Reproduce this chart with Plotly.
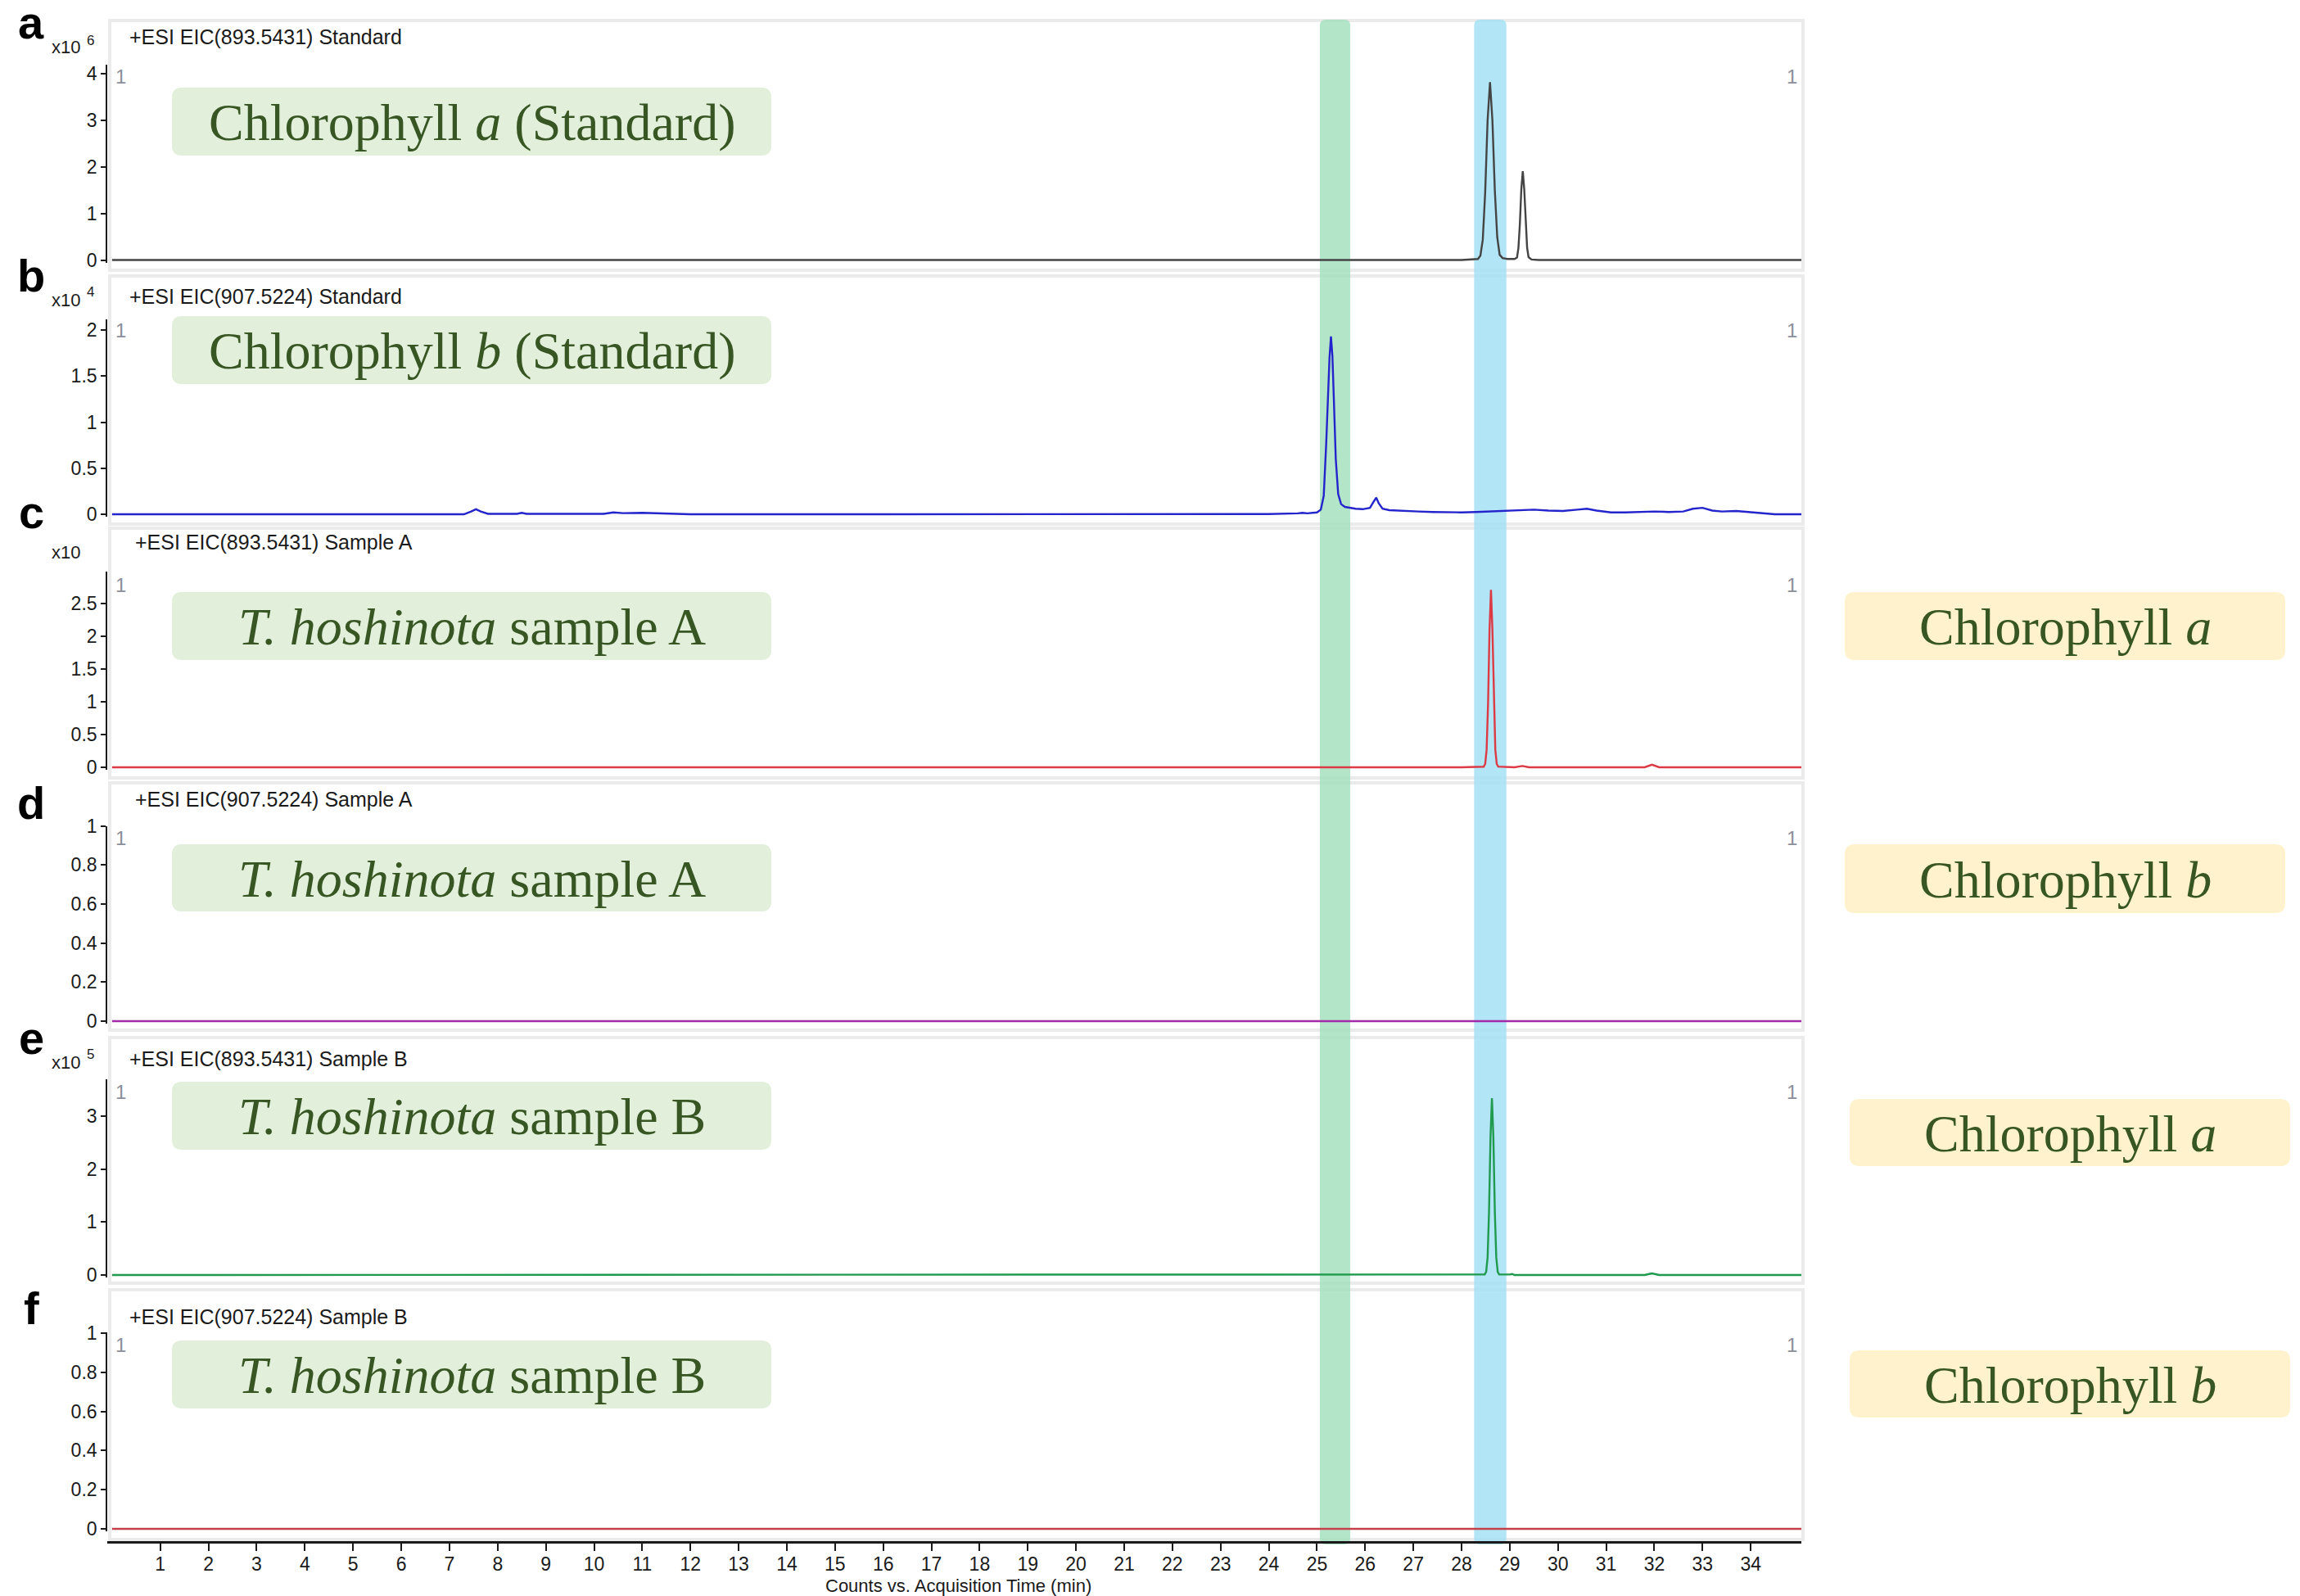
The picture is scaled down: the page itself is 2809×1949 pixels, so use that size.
import plotly.graph_objects as go

W, H = 2809, 1949          # browser window
OFF = 8                     # default body margin of the html page
FW, FH = W - OFF, H - OFF   # figure size: figure fills the window from the body margin on

# ---------------- data ----------------
# a: EIC 893.5431 Standard (x10^6)
time_a = [0.0, 5.0, 10.0, 15.0, 20.0, 25.0, 28.00, 28.34, 28.39, 28.44, 28.49, 28.54, 28.59, 28.64,
          28.69, 28.74, 28.79, 28.85, 28.95, 29.10, 29.15, 29.18, 29.21, 29.24, 29.27, 29.30, 29.33,
          29.36, 29.39, 29.45, 29.60, 30.0, 35.05]
int_a = [0.01, 0.01, 0.01, 0.01, 0.01, 0.01, 0.01, 0.03, 0.10, 0.44, 1.46, 3.00, 3.82, 3.00,
         1.50, 0.50, 0.12, 0.05, 0.03, 0.03, 0.06, 0.27, 0.79, 1.53, 1.91, 1.53, 0.79,
         0.27, 0.07, 0.02, 0.01, 0.01, 0.01]

# b: EIC 907.5224 Standard (x10^4)
time_b = [0.0, 7.30, 7.45, 7.55, 7.65, 7.80, 8.40, 8.50, 8.60, 10.2, 10.4, 10.6, 11.0, 11.4, 11.6,
          12.0, 16.0, 20.0, 24.0, 24.6, 24.7, 24.8, 25.00, 25.08, 25.14, 25.19, 25.23, 25.26, 25.29,
          25.32, 25.35, 25.39, 25.44, 25.50, 25.58, 25.68, 25.80, 25.95, 26.10, 26.18, 26.23, 26.28,
          26.36, 26.50, 26.80, 27.1, 27.4, 27.7, 28.0, 28.3, 28.6, 28.9, 29.2, 29.5, 29.8, 30.1,
          30.4, 30.6, 30.8, 31.1, 31.4, 31.7, 32.0, 32.3, 32.6, 32.8, 33.0, 33.2, 33.4, 33.7, 34.0,
          34.5, 35.05]
int_b = [0.0, 0.0, 0.03, 0.055, 0.03, 0.005, 0.005, 0.015, 0.005, 0.005, 0.02, 0.012, 0.015, 0.01,
         0.003, 0.0, 0.0, 0.0, 0.002, 0.01, 0.015, 0.01, 0.02, 0.05, 0.20, 0.75, 1.30, 1.70, 1.93,
         1.72, 1.25, 0.60, 0.22, 0.11, 0.08, 0.07, 0.06, 0.055, 0.07, 0.14, 0.18, 0.12,
         0.06, 0.045, 0.035, 0.03, 0.025, 0.022, 0.02, 0.025, 0.03, 0.035, 0.045, 0.05, 0.04, 0.035,
         0.05, 0.06, 0.04, 0.02, 0.02, 0.025, 0.03, 0.025, 0.03, 0.06, 0.07, 0.04, 0.03, 0.035, 0.02,
         0.0, 0.0]

# c: EIC 893.5431 Sample A (x10)
time_c = [0.0, 10.0, 20.0, 28.0, 28.46, 28.49, 28.52, 28.55, 28.58, 28.61, 28.64, 28.67, 28.70,
          28.73, 28.76, 29.10, 29.26, 29.40, 31.80, 31.95, 32.10, 35.05]
int_c = [0.0, 0.0, 0.0, 0.0, 0.01, 0.05, 0.27, 0.98, 2.10, 2.71, 2.10, 0.98, 0.27,
         0.05, 0.01, 0.0, 0.02, 0.0, 0.0, 0.04, 0.0, 0.0]

# d: EIC 907.5224 Sample A
time_d = [0.0, 10.0, 20.0, 30.0, 35.05]
int_d = [0.0, 0.0, 0.0, 0.0, 0.0]

# e: EIC 893.5431 Sample B (x10^5)
time_e = [0.0, 10.0, 20.0, 28.0, 28.48, 28.51, 28.54, 28.57, 28.60, 28.63, 28.66, 28.69, 28.72,
          28.75, 28.78, 29.00, 29.05, 29.10, 31.80, 31.95, 32.10, 35.05]
int_e = [0.0, 0.0, 0.0, 0.0, 0.01, 0.06, 0.33, 1.20, 2.60, 3.34, 2.60, 1.20, 0.33,
         0.06, 0.01, 0.01, 0.02, 0.0, 0.0, 0.03, 0.0, 0.0]

# f: EIC 907.5224 Sample B
time_f = [0.0, 10.0, 20.0, 30.0, 35.05]
int_f = [0.0, 0.0, 0.0, 0.0, 0.0]

# highlighted retention-time windows (min): chlorophyll b, chlorophyll a
band_b = [25.06, 25.69]
band_a = [28.26, 28.93]

# tick labels
yticks_a = [0, 1, 2, 3, 4]
yticks_b = [0, 0.5, 1, 1.5, 2]
yticks_c = [0, 0.5, 1, 1.5, 2, 2.5]
yticks_d = [0, 0.2, 0.4, 0.6, 0.8, 1]
yticks_e = [0, 1, 2, 3]
yticks_f = [0, 0.2, 0.4, 0.6, 0.8, 1]
xticks = [1, 2, 3, 4, 5, 6, 7, 8, 9, 10, 11, 12, 13, 14, 15, 16, 17, 18, 19, 20, 21, 22, 23,
          24, 25, 26, 27, 28, 29, 30, 31, 32, 33, 34]

headers = ["+ESI EIC(893.5431) Standard", "+ESI EIC(907.5224) Standard",
           "+ESI EIC(893.5431) Sample A", "+ESI EIC(907.5224) Sample A",
           "+ESI EIC(893.5431) Sample B", "+ESI EIC(907.5224) Sample B"]
letters = ["a", "b", "c", "d", "e", "f"]
exponents = ["6", "4", "", None, "5", None]
left_labels = ["Chlorophyll <i>a</i> (Standard)", "Chlorophyll <i>b</i> (Standard)",
               "<i>T. hoshinota</i> sample A", "<i>T. hoshinota</i> sample A",
               "<i>T. hoshinota</i> sample B", "<i>T. hoshinota</i> sample B"]
right_labels = [None, None, "Chlorophyll <i>a</i>", "Chlorophyll <i>b</i>",
                "Chlorophyll <i>a</i>", "Chlorophyll <i>b</i>"]

# ---------------- layout geometry (window pixels) ----------------
def px(x):
    return (x - OFF) / FW

def py(y):
    return 1 - (y - OFF) / FH

X_LEFT, X_RIGHT = 131, 2200
X_RANGE = [-0.10, 35.05]

panels = [
    dict(t=time_a, v=int_a, color="#444444", ticks=yticks_a, y0=318, rv=4, rpx=90, top=79,
         frame=(25, 330), hdr=(156, 45), letter_y=27, x10_y=57, exp_y=50,
         lbox=(107, 190), rbox=None, one_y=94),
    dict(t=time_b, v=int_b, color="#2424cc", ticks=yticks_b, y0=628, rv=2, rpx=403, top=390,
         frame=(337, 640), hdr=(156, 362), letter_y=337, x10_y=367, exp_y=357,
         lbox=(386, 469), rbox=None, one_y=403),
    dict(t=time_c, v=int_c, color="#dc3a44", ticks=yticks_c, y0=937, rv=2.5, rpx=737, top=698,
         frame=(645, 950), hdr=(163, 662), letter_y=625, x10_y=675, exp_y=None,
         lbox=(723, 806), rbox=(2253, 2791, 723, 806), one_y=714),
    dict(t=time_d, v=int_d, color="#a22aa8", ticks=yticks_d, y0=1247, rv=1, rpx=1008.5, top=1008.5,
         frame=(956, 1258), hdr=(163, 976), letter_y=980, x10_y=None, exp_y=None,
         lbox=(1031, 1113), rbox=(2253, 2791, 1031, 1115), one_y=1023),
    dict(t=time_e, v=int_e, color="#1f9a4e", ticks=yticks_e, y0=1557, rv=3, rpx=1363, top=1318,
         frame=(1267, 1567), hdr=(156, 1293), letter_y=1267, x10_y=1297, exp_y=1287,
         lbox=(1321, 1404), rbox=(2259, 2797, 1342, 1424), one_y=1333),
    dict(t=time_f, v=int_f, color="#c4404a", ticks=yticks_f, y0=1867, rv=1, rpx=1628, top=1627,
         frame=(1575, 1880), hdr=(156, 1608), letter_y=1597, x10_y=None, exp_y=None,
         lbox=(1637, 1720), rbox=(2259, 2797, 1649, 1731), one_y=1642),
]

SANS = "Liberation Sans, Arial, sans-serif"
SERIF = "Liberation Serif, Times New Roman, serif"
LABEL_GREEN = "#375623"


def rrect_path(x0, y0, x1, y1, r):
    rx, ry = r / FW, r / FH
    X0, X1 = px(x0), px(x1)
    Y0, Y1 = py(y0), py(y1)  # Y0 top (larger), Y1 bottom
    return (f"M {X0+rx},{Y0} L {X1-rx},{Y0} Q {X1},{Y0} {X1},{Y0-ry} "
            f"L {X1},{Y1+ry} Q {X1},{Y1} {X1-rx},{Y1} L {X0+rx},{Y1} "
            f"Q {X0},{Y1} {X0},{Y1+ry} L {X0},{Y0-ry} Q {X0},{Y0} {X0+rx},{Y0} Z")


def band_path(t0, t1, ytop, ybot, r_px):
    rt = r_px / ((X_RIGHT - X_LEFT) / (X_RANGE[1] - X_RANGE[0]))
    ry = r_px / FH
    Y0, Y1 = py(ytop), py(ybot)
    return (f"M {t0+rt},{Y0} L {t1-rt},{Y0} Q {t1},{Y0} {t1},{Y0-ry} "
            f"L {t1},{Y1+ry} Q {t1},{Y1} {t1-rt},{Y1} L {t0+rt},{Y1} "
            f"Q {t0},{Y1} {t0},{Y1+ry} L {t0},{Y0-ry} Q {t0},{Y0} {t0+rt},{Y0} Z")


fig = go.Figure()
shapes = []
annotations = []
layout_axes = {}

for i, p in enumerate(panels, start=1):
    ppu = (p["y0"] - p["rpx"]) / p["rv"]
    ymax = (p["y0"] - p["top"]) / ppu
    ymin = -3 / ppu
    xa = "x" if i == 1 else f"x{i}"
    ya = "y" if i == 1 else f"y{i}"
    fig.add_trace(go.Scatter(x=p["t"], y=p["v"], mode="lines", xaxis=xa, yaxis=ya,
                             line=dict(color=p["color"], width=2.4), showlegend=False,
                             hoverinfo="skip"))
    xkey = "xaxis" if i == 1 else f"xaxis{i}"
    ykey = "yaxis" if i == 1 else f"yaxis{i}"
    xdict = dict(domain=[px(X_LEFT), px(X_RIGHT)], range=X_RANGE, showgrid=False,
                 zeroline=False, fixedrange=True, automargin=False)
    if i < 6:
        xdict.update(anchor=ya, visible=False)
    else:
        xdict.update(anchor="free", position=py(1883), showline=True, linecolor="#1a1a1a",
                     linewidth=2.5, ticks="outside", ticklen=9, tickwidth=2,
                     tickcolor="#1a1a1a", tickvals=xticks, ticktext=[str(v) for v in xticks],
                     ticklabelstandoff=-3,
                     tickfont=dict(family=SANS, size=23, color="#1a1a1a"))
    layout_axes[xkey] = xdict
    layout_axes[ykey] = dict(domain=[py(p["y0"] + 3), py(p["top"])], range=[ymin, ymax],
                             anchor=xa, showline=True, linecolor="#1a1a1a", linewidth=1.6,
                             ticks="outside", ticklen=6, tickwidth=1.6, tickcolor="#1a1a1a",
                             tickvals=p["ticks"], ticktext=[f"{v:g}" for v in p["ticks"]],
                             tickfont=dict(family=SANS, size=23, color="#1a1a1a"),
                             showgrid=False, zeroline=False, fixedrange=True, automargin=False)

    # panel frame
    ft, fb = p["frame"]
    shapes.append(dict(type="rect", xref="paper", yref="paper", x0=px(134), x1=px(2202),
                       y0=py(fb), y1=py(ft), line=dict(color="#ebebeb", width=4),
                       fillcolor="rgba(0,0,0,0)", layer="below"))
    # green sample label box
    lt, lb = p["lbox"]
    shapes.append(dict(type="path", xref="paper", yref="paper",
                       path=rrect_path(210, lt, 942, lb, 12),
                       fillcolor="#e2efda", line=dict(width=0), layer="above"))
    annotations.append(dict(text=left_labels[i - 1], xref="paper", yref="paper",
                            x=px(576), y=py((lt + lb) / 2 + 1), xanchor="center",
                            yanchor="middle", showarrow=False,
                            font=dict(family=SERIF, size=64, color=LABEL_GREEN)))
    if p["rbox"] is not None:
        rx0, rx1, rt_, rb_ = p["rbox"]
        shapes.append(dict(type="path", xref="paper", yref="paper",
                           path=rrect_path(rx0, rt_, rx1, rb_, 12),
                           fillcolor="#fff2cc", line=dict(width=0), layer="above"))
        annotations.append(dict(text=right_labels[i - 1], xref="paper", yref="paper",
                                x=px((rx0 + rx1) / 2), y=py((rt_ + rb_) / 2 + 1),
                                xanchor="center", yanchor="middle", showarrow=False,
                                font=dict(family=SERIF, size=64, color=LABEL_GREEN)))
    # panel letter
    annotations.append(dict(text=f"<b>{letters[i-1]}</b>", xref="paper", yref="paper",
                            x=px(38), y=py(p["letter_y"]), xanchor="center", yanchor="middle",
                            showarrow=False, font=dict(family=SANS, size=56, color="#000000")))
    # header
    hx, hy = p["hdr"]
    annotations.append(dict(text=headers[i - 1], xref="paper", yref="paper", x=px(hx),
                            y=py(hy), xanchor="left", yanchor="middle", showarrow=False,
                            font=dict(family=SANS, size=25, color="#1a1a1a")))
    # scale factor label
    if p["x10_y"] is not None:
        annotations.append(dict(text="x10", xref="paper", yref="paper", x=px(100),
                                y=py(p["x10_y"]), xanchor="right", yanchor="middle",
                                showarrow=False, font=dict(family=SANS, size=22, color="#1a1a1a")))
    if p["exp_y"] is not None and exponents[i - 1]:
        annotations.append(dict(text=exponents[i - 1], xref="paper", yref="paper", x=px(104),
                                y=py(p["exp_y"]), xanchor="left", yanchor="middle",
                                showarrow=False, font=dict(family=SANS, size=17, color="#1a1a1a")))
    # small "1" markers
    for xx in (147, 2188):
        annotations.append(dict(text="1", xref="paper", yref="paper", x=px(xx),
                                y=py(p["one_y"]), xanchor="center", yanchor="middle",
                                showarrow=False, font=dict(family=SANS, size=24, color="#8c8f99")))

# highlight bands (drawn under the traces, over the frames)
shapes.append(dict(type="path", xref="x6", yref="paper",
                   path=band_path(band_b[0], band_b[1], 24, 1886, 7),
                   fillcolor="rgba(166,226,191,0.85)", line=dict(width=0), layer="below"))
shapes.append(dict(type="path", xref="x6", yref="paper",
                   path=band_path(band_a[0], band_a[1], 24, 1886, 7),
                   fillcolor="rgba(164,225,245,0.85)", line=dict(width=0), layer="below"))

annotations.append(dict(text="Counts vs. Acquisition Time (min)", xref="paper", yref="paper",
                        x=px(1170), y=py(1936), xanchor="center", yanchor="middle",
                        showarrow=False, font=dict(family=SANS, size=22, color="#1a1a1a")))

fig.update_layout(width=FW, height=FH, autosize=False,
                  margin=dict(l=0, r=0, t=0, b=0, pad=0, autoexpand=False),
                  paper_bgcolor="white", plot_bgcolor="rgba(0,0,0,0)", shapes=shapes,
                  annotations=annotations, showlegend=False, **layout_axes)

fig.write_html("out.html")
